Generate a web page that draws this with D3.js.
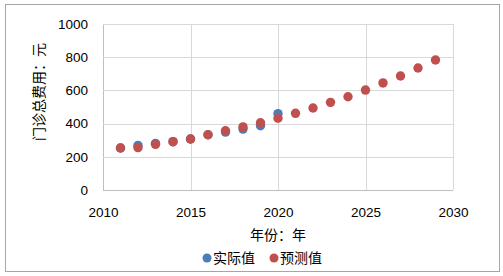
<!DOCTYPE html>
<html lang="zh">
<head>
<meta charset="UTF-8">
<title>门诊总费用</title>
<script src="https://d3js.org/d3.v7.min.js"></script>
<style>
  body { margin: 0; background: #fff; }
  .tick text { font-family: "Liberation Sans", Arial, sans-serif; font-size: 13.5px; fill: #000; }
  .cjk { font-family: "Noto Sans CJK SC", sans-serif; font-size: 14px; fill: #000; }
</style>
</head>
<body>
<svg width="503" height="276"></svg>
<script>
// values
var actualYears = [2011, 2012, 2013, 2014, 2015, 2016, 2017, 2018, 2019, 2020];
var actualValues = [253, 269, 281, 291, 307, 333, 349, 367, 387, 460];
var predYears = [2011, 2012, 2013, 2014, 2015, 2016, 2017, 2018, 2019, 2020,
                 2021, 2022, 2023, 2024, 2025, 2026, 2027, 2028, 2029];
var predValues = [253, 255, 275, 291, 307, 333, 357, 380, 405, 432,
                  462, 494, 528, 562, 602, 645, 687, 735, 783];
var xTicks = [2010, 2015, 2020, 2025, 2030];
var yTicks = [0, 200, 400, 600, 800, 1000];

var blue = "#4a7ebb", red = "#c0504d";

var svg = d3.select("svg");

// chart border
svg.append("rect")
  .attr("x", 5.5).attr("y", 4.5)
  .attr("width", 494).attr("height", 267)
  .attr("fill", "#fff").attr("stroke", "#a6a6a6").attr("stroke-width", 1);

var x = d3.scaleLinear().domain([2010, 2030]).range([103, 453]);
var y = d3.scaleLinear().domain([0, 1000]).range([190, 24]);

// grid
svg.append("g").selectAll("line.v").data(xTicks).enter().append("line")
  .attr("x1", function(d) { return Math.round(x(d)) + 0.5; })
  .attr("x2", function(d) { return Math.round(x(d)) + 0.5; })
  .attr("y1", y(1000)).attr("y2", y(0))
  .attr("stroke", function(d) { return d === 2010 ? "#bfbfbf" : "#d9d9d9"; });
svg.append("g").selectAll("line.h").data(yTicks).enter().append("line")
  .attr("x1", x(2010)).attr("x2", x(2030))
  .attr("y1", function(d) { return Math.round(y(d)) + 0.5; })
  .attr("y2", function(d) { return Math.round(y(d)) + 0.5; })
  .attr("stroke", function(d) { return d === 0 ? "#bfbfbf" : "#d9d9d9"; });

// axes (labels only)
var xAxis = svg.append("g")
  .attr("transform", "translate(0,204)")
  .call(d3.axisBottom(x).tickValues(xTicks).tickFormat(d3.format("d")).tickSize(0));
xAxis.select(".domain").remove();

var yAxis = svg.append("g")
  .attr("transform", "translate(88,0)")
  .call(d3.axisLeft(y).tickValues(yTicks).tickFormat(d3.format("d")).tickSize(0).tickPadding(0));
yAxis.select(".domain").remove();

// axis titles
svg.append("text").attr("class", "cjk")
  .attr("x", 278).attr("y", 240)
  .attr("text-anchor", "middle")
  .text("年份：年");
svg.append("text").attr("class", "cjk")
  .attr("transform", "translate(44,92) rotate(-90)")
  .attr("text-anchor", "middle")
  .text("门诊总费用：元");

// points
svg.append("g").selectAll("circle").data(actualYears).enter().append("circle")
  .attr("cx", function(d) { return x(d); })
  .attr("cy", function(d, i) { return y(actualValues[i]); })
  .attr("r", 4.7).attr("fill", blue);
svg.append("g").selectAll("circle").data(predYears).enter().append("circle")
  .attr("cx", function(d) { return x(d); })
  .attr("cy", function(d, i) { return y(predValues[i]); })
  .attr("r", 4.7).attr("fill", red);

// legend
var legend = [{name: "实际值", color: blue, x: 207}, {name: "预测值", color: red, x: 274}];
var lg = svg.append("g").selectAll("g").data(legend).enter().append("g")
  .attr("transform", function(d) { return "translate(" + d.x + ",258)"; });
lg.append("circle").attr("r", 4.5).attr("fill", function(d) { return d.color; });
lg.append("text").attr("class", "cjk")
  .attr("x", 6).attr("y", 5)
  .text(function(d) { return d.name; });
</script>
</body>
</html>
